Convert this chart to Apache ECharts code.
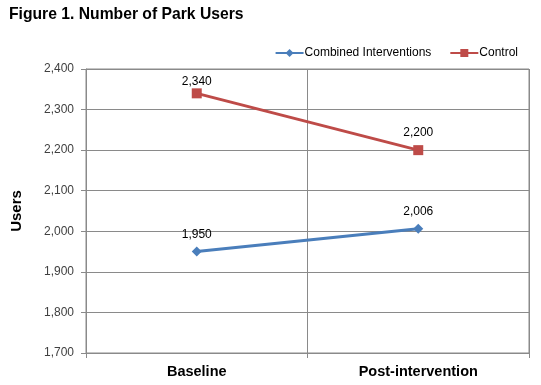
<!DOCTYPE html>
<html><head><meta charset="utf-8">
<script src="https://cdn.jsdelivr.net/npm/echarts@6/dist/echarts.min.js"></script>
<style>html,body{margin:0;padding:0;background:#fff}#c{width:541px;height:385px}</style>
</head><body><div id="c"></div>
<script>
const categories = ['Baseline', 'Post-intervention'];
const combined = [1950, 2006];
const control = [2340, 2200];
const yTicks = [1700, 1800, 1900, 2000, 2100, 2200, 2300, 2400];

const fmt = v => v.toLocaleString('en-US');
const chart = echarts.init(document.getElementById('c'));
const gridColor = '#8a8a8a';
const labelDist = [[6, 6], [1, 6]];
const toData = (arr, si) => arr.map((v, i) => ({ value: v, label: { distance: labelDist[si][i] } }));
chart.setOption({
  animation: false,
  backgroundColor: '#fff',
  textStyle: { fontFamily: 'Liberation Sans, Arial, sans-serif' },
  title: {
    text: 'Figure 1. Number of Park Users', left: 4, top: 2,
    textStyle: { fontSize: 15.7, fontWeight: 'bold', color: '#000', fontFamily: 'Liberation Sans, Arial' }
  },
  legend: {
    top: 42, right: 18, itemWidth: 28, itemHeight: 10, itemGap: 18,
    textStyle: { fontSize: 12, color: '#000', padding: [0, 0, 0, -4] },
    data: ['Combined Interventions', 'Control']
  },
  grid: { left: 86, right: 12, top: 69, bottom: 32, show: true, borderColor: gridColor, borderWidth: 1 },
  xAxis: {
    type: 'category', data: categories, boundaryGap: true,
    axisLine: { lineStyle: { color: gridColor } },
    axisTick: { show: true, length: 5, lineStyle: { color: gridColor } },
    splitLine: { show: true, lineStyle: { color: gridColor } },
    axisLabel: { fontSize: 14.5, fontWeight: 'bold', color: '#000', margin: 11 }
  },
  yAxis: {
    type: 'value', min: yTicks[0], max: yTicks[yTicks.length - 1], interval: 100,
    name: 'Users', nameLocation: 'middle', nameGap: 62, nameRotate: 90,
    nameTextStyle: { fontSize: 15, fontWeight: 'bold', color: '#000' },
    axisLine: { show: true, lineStyle: { color: gridColor } },
    axisTick: { show: true, length: 5, lineStyle: { color: gridColor } },
    splitLine: { show: true, lineStyle: { color: gridColor } },
    axisLabel: { fontSize: 12, color: '#404040', margin: 12, formatter: v => fmt(v) }
  },
  series: [
    {
      name: 'Combined Interventions', type: 'line', data: toData(combined, 0),
      symbol: 'diamond', symbolSize: 10,
      lineStyle: { width: 3, color: '#4A7EBB' }, itemStyle: { color: '#4A7EBB' },
      label: { show: true, position: 'top', fontSize: 12, color: '#000', formatter: p => fmt(p.value) }
    },
    {
      name: 'Control', type: 'line', data: toData(control, 1),
      symbol: 'rect', symbolSize: 10,
      lineStyle: { width: 3, color: '#BE4B48' }, itemStyle: { color: '#BE4B48' },
      label: { show: true, position: 'top', fontSize: 12, color: '#000', formatter: p => fmt(p.value) }
    }
  ]
});
</script></body></html>
